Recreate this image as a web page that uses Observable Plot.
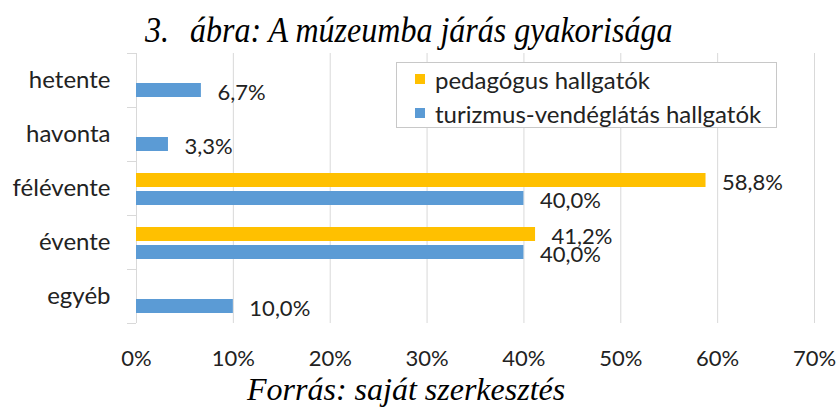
<!DOCTYPE html>
<html>
<head>
<meta charset="utf-8">
<script src="https://cdn.jsdelivr.net/npm/d3@7"></script>
<script src="https://cdn.jsdelivr.net/npm/@observablehq/plot@0.6"></script>
<style>
  html, body { margin: 0; padding: 0; background: #fff; }
  #wrap { position: relative; width: 837px; height: 407px; overflow: hidden; }
  #title { position: absolute; left: 145px; top: 15px; font-family: "Liberation Serif", "Times New Roman", serif; font-style: italic; font-size: 32px; line-height: 1; color: #000; white-space: nowrap; transform: scaleY(1.15); transform-origin: 0 27px; }
  #title .gap { display: inline-block; width: 21px; }
  #caption { position: absolute; left: 247px; top: 373px; font-family: "Liberation Serif", "Times New Roman", serif; font-style: italic; font-size: 32px; line-height: 1; color: #000; white-space: nowrap; }
  #chart { position: absolute; left: 0; top: 50px; }
  #legend { position: absolute; left: 396px; top: 62px; width: 379px; height: 64px; border: 1px solid #c8c8c8; background: #fff; font-family: Lato, sans-serif; font-size: 24px; color: #222; }
  #legend .row { position: absolute; left: 18px; height: 26px; display: flex; align-items: center; white-space: nowrap; }
  #legend .sw { width: 10px; height: 10px; margin-right: 10px; }
  #chart svg g[aria-label="y-axis tick label"] text { font-size: 24px; }
</style>
</head>
<body>
<div id="wrap">
  <div id="title"></div>
  <div id="chart"></div>
  <div id="legend"></div>
  <div id="caption"></div>
</div>
<script>
const titleNumber = "3.";
const titleText = "ábra: A múzeumba járás gyakorisága";
const captionText = "Forrás: saját szerkesztés";
const categories = ["hetente", "havonta", "félévente", "évente", "egyéb"];
const seriesNames = ["pedagógus hallgatók", "turizmus-vendéglátás hallgatók"];
const pedagogus = [null, null, 58.8, 41.2, null];
const turizmus = [6.7, 3.3, 40.0, 40.0, 10.0];
const xTicks = [0, 10, 20, 30, 40, 50, 60, 70];
const colors = ["#FFC000", "#5B9BD5"];

const rows = categories.map((c, i) => ({cat: c, ped: pedagogus[i], tur: turizmus[i]}));
const fmt = v => v.toFixed(1).replace(".", ",") + "%";

document.getElementById("title").innerHTML = titleNumber + '<span class="gap"></span>' + titleText;
document.getElementById("caption").textContent = captionText;

const legend = document.getElementById("legend");
seriesNames.forEach((name, i) => {
  const row = document.createElement("div");
  row.className = "row";
  row.style.top = (3 + i * 34) + "px";
  const sw = document.createElement("div");
  sw.className = "sw";
  sw.style.background = colors[i];
  row.appendChild(sw);
  const t = document.createElement("span");
  t.textContent = name;
  row.appendChild(t);
  legend.appendChild(row);
});

const grid = "#d9d9d9";
const chart = Plot.plot({
  width: 837,
  height: 322,
  marginLeft: 136,
  marginRight: 23,
  marginTop: 3,
  marginBottom: 49,
  style: {fontFamily: "Lato, sans-serif", fontSize: "22px", color: "#222", background: "#fff"},
  x: {domain: [0, 70], ticks: xTicks, tickFormat: d => d + "%", tickSize: 0, tickPadding: 27, label: null},
  y: {domain: categories, padding: 0, tickSize: 0, tickPadding: 26, label: null},
  marks: [
    Plot.ruleX(xTicks.slice(1), {stroke: grid, strokeWidth: 1}),
    Plot.ruleX([0], {stroke: grid, strokeWidth: 1}),
    Plot.barX(rows.filter(d => d.ped != null), {x: "ped", y: "cat", fill: colors[0], insetTop: 12, insetBottom: 28}),
    Plot.barX(rows, {x: "tur", y: "cat", fill: colors[1], insetTop: 30, insetBottom: 10}),
    Plot.text(rows.filter(d => d.ped != null), {x: "ped", y: "cat", text: d => fmt(d.ped), textAnchor: "start", dx: 16, dy: -6, fill: "#222"}),
    Plot.text(rows, {x: "tur", y: "cat", text: d => fmt(d.tur), textAnchor: "start", dx: 16, dy: 12, fill: "#222"}),
    Plot.ruleY(categories, {y: d => d, x1: 0, x2: 0, insetLeft: -9, dy: -27, stroke: grid}),
    Plot.ruleY(categories.slice(-1), {y: d => d, x1: 0, x2: 0, insetLeft: -9, dy: 27, stroke: grid})
  ]
});
document.getElementById("chart").appendChild(chart);
</script>
</body>
</html>
